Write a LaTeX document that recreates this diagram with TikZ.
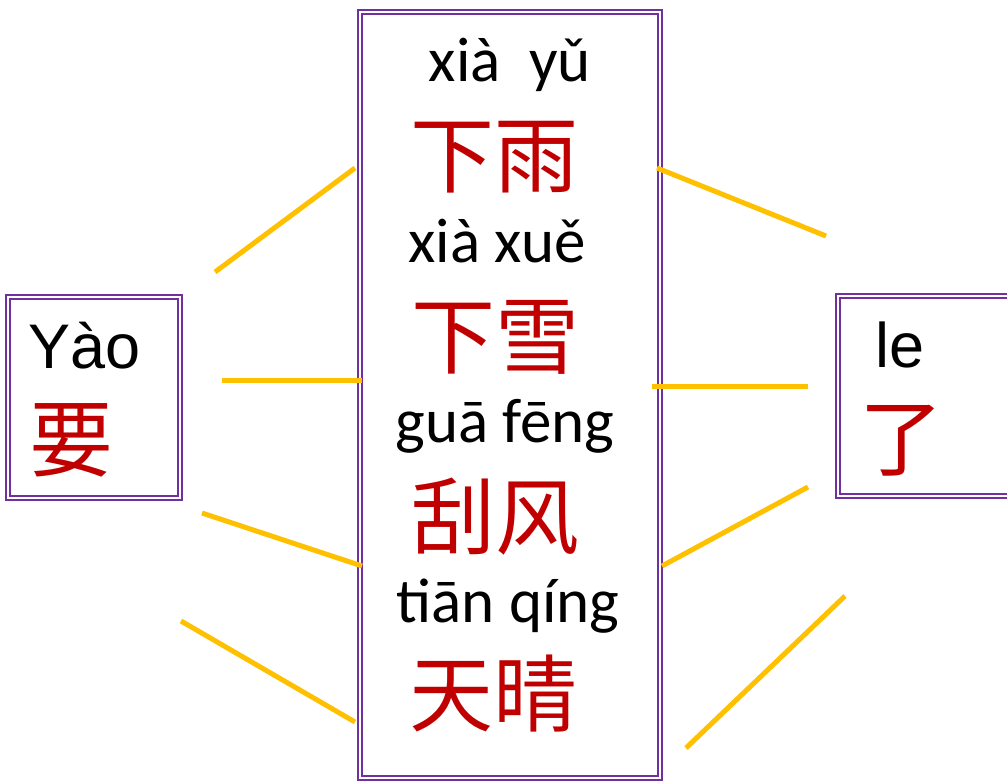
\documentclass[tikz,border=0pt]{standalone}
\usepackage{fontspec}
\setmainfont{Carlito}
\newfontfamily\arialfont{Liberation Sans}
\newfontfamily\cjk{Noto Sans CJK SC}
\definecolor{boxpurple}{HTML}{7030A0}
\definecolor{linkgold}{HTML}{FFC000}
\definecolor{hanred}{HTML}{C00000}
\tikzset{
  dblbox/.style={draw=boxpurple, double=white, double distance=2.6pt, line width=1.3pt},
  pinyin/.style={anchor=base, inner sep=0pt, font=\fontsize{63}{63}\selectfont},
  hanzi/.style={inner sep=0pt, text=hanred, font=\cjk\fontsize{84}{84}\selectfont},
  match/.style={draw=linkgold, line width=5pt}
}
\begin{document}
\begin{tikzpicture}[x=1pt,y=-1pt]
    \useasboundingbox (0,0) rectangle (1007,781);
    % boxes
    \draw[dblbox] (8,297) rectangle (180,498);
    \draw[dblbox] (360,12) rectangle (660,778);
    \draw[dblbox] (838,296) rectangle (1030,496);
    % left word
    \node[pinyin, anchor=base west, font=\arialfont\fontsize{63}{63}\selectfont] (yao) at (28,368) {Yào};
    \node[hanzi] (yaoh) at (71,440) {要};
    % middle words
    \node[pinyin] (xiayu) at (510,82) {xià\ \ yǔ};
    \node[hanzi] (xiayuh) at (494,157) {下雨};
    \node[pinyin] (xiaxue) at (497,262) {xià xuě};
    \node[hanzi] (xiaxueh) at (495,337) {下雪};
    \node[pinyin] (guafeng) at (505,442) {guā fēng};
    \node[hanzi] (guafengh) at (495,517) {刮风};
    \node[pinyin] (tianqing) at (508,622) {tiān qíng};
    \node[hanzi] (tianqingh) at (493,694) {天晴};
    % right word
    \node[pinyin, anchor=base west, font=\arialfont\fontsize{63}{63}\selectfont] (le) at (875,367) {le};
    \node[hanzi] (leh) at (901,441) {了};
    % matching lines
    \coordinate (l1a) at (215,272); \coordinate (l1b) at (355,168);
    \coordinate (l2a) at (222,380); \coordinate (l2b) at (362,380);
    \coordinate (l3a) at (202,513); \coordinate (l3b) at (362,566);
    \coordinate (l4a) at (181,621); \coordinate (l4b) at (355,722);
    \coordinate (r1a) at (657,168); \coordinate (r1b) at (826,236);
    \coordinate (r2a) at (652,386); \coordinate (r2b) at (808,386);
    \coordinate (r3a) at (662,566); \coordinate (r3b) at (808,487);
    \coordinate (r4a) at (686,748); \coordinate (r4b) at (845,596);
    \draw[match] (l1a) -- (l1b);
    \draw[match] (l2a) -- (l2b);
    \draw[match] (l3a) -- (l3b);
    \draw[match] (l4a) -- (l4b);
    \draw[match] (r1a) -- (r1b);
    \draw[match] (r2a) -- (r2b);
    \draw[match] (r3a) -- (r3b);
    \draw[match] (r4a) -- (r4b);
\end{tikzpicture}
\end{document}
